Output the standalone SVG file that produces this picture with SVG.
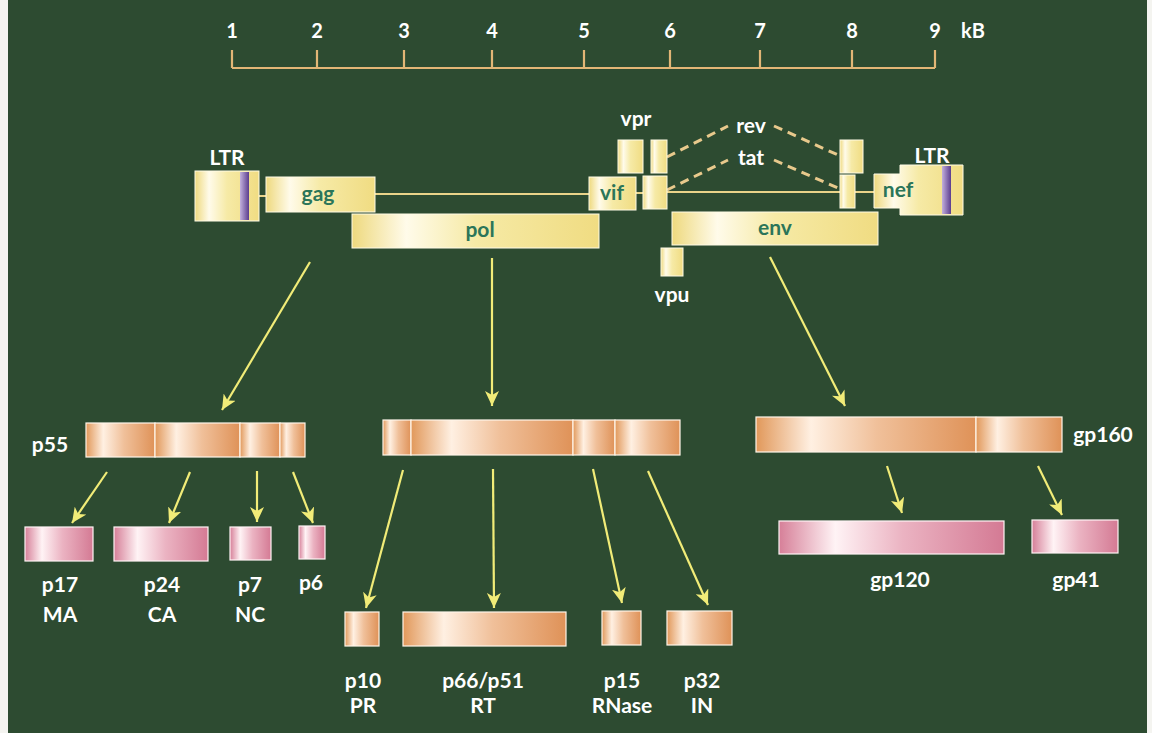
<svg xmlns="http://www.w3.org/2000/svg" width="1152" height="733" viewBox="0 0 1152 733">
<defs>
<style>
.bg{fill:#2d4b31}
.lbl{font-family:Lato,"Open Sans","DejaVu Sans",sans-serif;font-weight:bold;fill:#ffffff;text-anchor:middle}
.num{font-size:20px}
.out{font-size:21px}
.inner{font-family:Lato,"Open Sans","DejaVu Sans",sans-serif;font-weight:bold;fill:#2b7559;text-anchor:middle;font-size:21px}
.gbox{fill:url(#yel);stroke:#fffbe6;stroke-width:1}
.obox{fill:url(#ora);stroke:#fff6ea;stroke-width:1.2}
.pbox{fill:url(#pnk);stroke:#fff4f6;stroke-width:1.2}
.axis{stroke:#e2b676;stroke-width:2.2;fill:none}
.gline{stroke:#e9d389;stroke-width:2;fill:none}
.dash{stroke:#e8c98c;stroke-width:3;fill:none;stroke-dasharray:9 6}
.arr{stroke:#f1ec78;stroke-width:2.2;fill:none;marker-end:url(#ah)}
</style>
<linearGradient id="yel" x1="0" y1="0" x2="1" y2="0">
<stop offset="0" stop-color="#eed97e"/>
<stop offset="0.22" stop-color="#fffbea"/>
<stop offset="0.5" stop-color="#f6eaa6"/>
<stop offset="1" stop-color="#f0dc82"/>
</linearGradient>
<linearGradient id="ora" x1="0" y1="0" x2="1" y2="0">
<stop offset="0" stop-color="#e1985a"/>
<stop offset="0.25" stop-color="#fff0e2"/>
<stop offset="0.55" stop-color="#f0c09a"/>
<stop offset="1" stop-color="#df9258"/>
</linearGradient>
<linearGradient id="pnk" x1="0" y1="0" x2="1" y2="0">
<stop offset="0" stop-color="#d67f98"/>
<stop offset="0.25" stop-color="#fff3f5"/>
<stop offset="0.55" stop-color="#ebb3c2"/>
<stop offset="1" stop-color="#d47a94"/>
</linearGradient>
<linearGradient id="pur" x1="0" y1="0" x2="1" y2="0">
<stop offset="0" stop-color="#c2b0dc"/>
<stop offset="1" stop-color="#5b3d8e"/>
</linearGradient>
<marker id="ah" markerUnits="userSpaceOnUse" markerWidth="16" markerHeight="14" refX="15" refY="7" orient="auto">
<path d="M0,0 L15,7 L0,14 L4,7 z" fill="#f1ec78"/>
</marker>
</defs>

<rect class="bg" x="0" y="0" width="1152" height="733"/>
<rect x="0" y="0" width="8" height="733" fill="#f4f4f0"/>
<rect x="1147" y="0" width="5" height="733" fill="#f4f4f0"/>

<g id="scale">
<path class="axis" d="M232,68 H935 M232,50 V68 M317,50 V68 M404,50 V68 M492,50 V68 M584,50 V68 M670,50 V68 M760,50 V68 M852,50 V68 M935,50 V68"/>
<text class="lbl num" x="232" y="38">1</text>
<text class="lbl num" x="317" y="38">2</text>
<text class="lbl num" x="404" y="38">3</text>
<text class="lbl num" x="492" y="38">4</text>
<text class="lbl num" x="584" y="38">5</text>
<text class="lbl num" x="670" y="38">6</text>
<text class="lbl num" x="760" y="38">7</text>
<text class="lbl num" x="852" y="38">8</text>
<text class="lbl num" x="935" y="38">9</text>
<text class="lbl num" x="973" y="38">kB</text>
</g>

<g id="connectors">
<path class="gline" d="M259,196 H266 M375,194 H589 M636,193 H643 M667,192 H840 M855,192 H874"/>
<path class="dash" d="M667,157 L728,126 M774,126 L838,155 M667,190 L728,160 M774,160 L838,188"/>
<line class="arr" x1="310" y1="262" x2="222" y2="410"/>
<line class="arr" x1="492" y1="258" x2="492" y2="406"/>
<line class="arr" x1="770" y1="257" x2="845" y2="406"/>
<line class="arr" x1="107" y1="472" x2="72" y2="523"/>
<line class="arr" x1="190" y1="472" x2="169" y2="523"/>
<line class="arr" x1="257" y1="471" x2="257" y2="522"/>
<line class="arr" x1="293" y1="472" x2="313" y2="523"/>
<line class="arr" x1="403" y1="470" x2="366" y2="608"/>
<line class="arr" x1="493" y1="469" x2="494" y2="608"/>
<line class="arr" x1="593" y1="469" x2="622" y2="603"/>
<line class="arr" x1="648" y1="471" x2="708" y2="605"/>
<line class="arr" x1="887" y1="466" x2="902" y2="513"/>
<line class="arr" x1="1038" y1="466" x2="1062" y2="515"/>
</g>

<g id="ltr5">
<rect class="gbox" x="195" y="171" width="64" height="50"/>
<rect x="240" y="172" width="9" height="48" fill="url(#pur)"/>
<text class="lbl out" x="227" y="165">LTR</text>
</g>
<g id="gag">
<rect class="gbox" x="266" y="177" width="109" height="35"/>
<text class="inner" x="318" y="201">gag</text>
</g>
<g id="pol">
<rect class="gbox" x="352" y="214" width="247" height="34"/>
<text class="inner" x="480" y="237">pol</text>
</g>
<g id="vif">
<rect class="gbox" x="589" y="177" width="47" height="33"/>
<text class="inner" x="612" y="200">vif</text>
</g>
<g id="vpr">
<rect class="gbox" x="618" y="140" width="25" height="33"/>
<text class="lbl out" x="636" y="126">vpr</text>
</g>
<g id="tatrev1">
<rect class="gbox" x="651" y="140" width="16" height="33"/>
<rect class="gbox" x="643" y="176" width="24" height="33"/>
</g>
<g id="rev">
<text class="lbl out" x="751" y="133">rev</text>
</g>
<g id="tat">
<text class="lbl out" x="751" y="165">tat</text>
</g>
<g id="tatrev2">
<rect class="gbox" x="840" y="140" width="23" height="33"/>
<rect class="gbox" x="840" y="175" width="15" height="33"/>
</g>
<g id="env">
<rect class="gbox" x="672" y="212" width="206" height="33"/>
<text class="inner" x="775" y="235">env</text>
</g>
<g id="vpu">
<rect class="gbox" x="661" y="248" width="22" height="28"/>
<text class="lbl out" x="672" y="302">vpu</text>
</g>
<g id="ltr3">
<path class="gbox" d="M874,174 H900 V165 H963 V215 H900 V208 H874 Z"/>
<rect x="942" y="166" width="9" height="48" fill="url(#pur)"/>
<text class="inner" x="898" y="197">nef</text>
<text class="lbl out" x="932" y="163">LTR</text>
</g>

<g id="p55">
<rect class="obox" x="86" y="423" width="69" height="34"/>
<rect class="obox" x="155" y="423" width="85" height="34"/>
<rect class="obox" x="240" y="423" width="40" height="34"/>
<rect class="obox" x="280" y="423" width="25" height="34"/>
<text class="lbl out" x="50" y="452">p55</text>
</g>
<g id="p17">
<rect class="pbox" x="25" y="527" width="68" height="34"/>
<text class="lbl out" x="60" y="592">p17</text>
<text class="lbl out" x="60" y="622">MA</text>
</g>
<g id="p24">
<rect class="pbox" x="114" y="527" width="94" height="34"/>
<text class="lbl out" x="162" y="592">p24</text>
<text class="lbl out" x="162" y="622">CA</text>
</g>
<g id="p7">
<rect class="pbox" x="230" y="527" width="41" height="33"/>
<text class="lbl out" x="250" y="592">p7</text>
<text class="lbl out" x="250" y="622">NC</text>
</g>
<g id="p6">
<rect class="pbox" x="299" y="526" width="26" height="33"/>
<text class="lbl out" x="311" y="590">p6</text>
</g>

<g id="polprotein">
<rect class="obox" x="383" y="420" width="28" height="35"/>
<rect class="obox" x="411" y="420" width="162" height="35"/>
<rect class="obox" x="573" y="420" width="42" height="35"/>
<rect class="obox" x="615" y="420" width="65" height="35"/>
</g>
<g id="p10">
<rect class="obox" x="345" y="612" width="34" height="34"/>
<text class="lbl out" x="363" y="688">p10</text>
<text class="lbl out" x="363" y="713">PR</text>
</g>
<g id="p66">
<rect class="obox" x="403" y="612" width="163" height="34"/>
<text class="lbl out" x="483" y="688">p66/p51</text>
<text class="lbl out" x="483" y="713">RT</text>
</g>
<g id="p15">
<rect class="obox" x="602" y="611" width="39" height="34"/>
<text class="lbl out" x="622" y="688">p15</text>
<text class="lbl out" x="622" y="713">RNase</text>
</g>
<g id="p32">
<rect class="obox" x="667" y="611" width="65" height="34"/>
<text class="lbl out" x="702" y="688">p32</text>
<text class="lbl out" x="702" y="713">IN</text>
</g>

<g id="gp160">
<rect class="obox" x="756" y="417" width="220" height="35"/>
<rect class="obox" x="976" y="417" width="86" height="35"/>
<text class="lbl out" x="1103" y="442">gp160</text>
</g>
<g id="gp120">
<rect class="pbox" x="779" y="521" width="225" height="33"/>
<text class="lbl out" x="900" y="587">gp120</text>
</g>
<g id="gp41">
<rect class="pbox" x="1032" y="520" width="86" height="33"/>
<text class="lbl out" x="1076" y="587">gp41</text>
</g>
</svg>
